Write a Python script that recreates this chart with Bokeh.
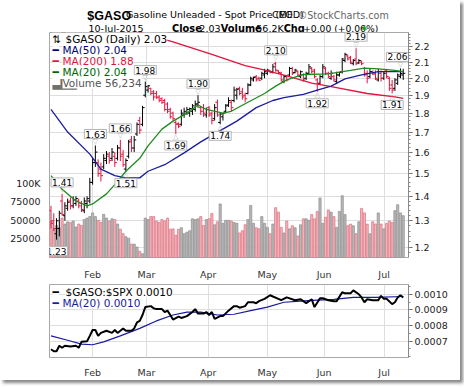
import numpy as np
from bokeh.plotting import figure
from bokeh.layouts import column
from bokeh.models import (ColumnDataSource, Range1d, LinearAxis, LinearScale, FixedTicker,
                          PrintfTickFormatter)
from bokeh.core.properties import value
from bokeh.embed import file_html
from bokeh.resources import INLINE

FONT = "DejaVu Sans"

# ---------------- data ----------------
symbol = "$GASO"
name = "Gasoline Unleaded - Spot Price (EOD)"
exchange = "CME"
last_date = "10-Jul-2015"
month_labels = ["Feb", "Mar", "Apr", "May", "Jun", "Jul"]
month_pos = [15.0, 34.4, 56.7, 78.0, 98.5, 120.1]

opens = [1.34, 1.30, 1.25, 1.27, 1.38, 1.32, 1.35, 1.38, 1.36, 1.37,
         1.38, 1.37, 1.34, 1.37, 1.38, 1.46, 1.55, 1.55, 1.52, 1.53,
         1.56, 1.58, 1.57, 1.58, 1.57, 1.62, 1.59, 1.52, 1.58, 1.66,
         1.62, 1.69, 1.76, 1.74, 1.90, 1.93, 1.94, 1.92, 1.91, 1.89,
         1.88, 1.87, 1.85, 1.82, 1.80, 1.75, 1.745, 1.74, 1.79, 1.80,
         1.80, 1.81, 1.82, 1.85, 1.83, 1.83, 1.79, 1.83, 1.80, 1.77,
         1.86, 1.75, 1.78, 1.81, 1.845, 1.86, 1.87, 1.90, 1.94, 1.92,
         1.90, 1.91, 1.96, 1.99, 2.01, 2.00, 2.00, 2.02, 2.03, 2.045,
         2.04, 2.09, 2.045, 2.03, 1.98, 2.01, 2.02, 2.06, 2.035, 2.04,
         2.01, 2.02, 2.00, 2.03, 2.06, 2.05, 1.99, 1.97, 2.01, 2.06,
         2.03, 2.00, 2.01, 1.98, 2.02, 2.04, 2.11, 2.14, 2.13, 2.09,
         2.12, 2.095, 2.10, 2.06, 2.03, 2.01, 2.04, 2.03, 1.99, 2.03,
         2.00, 2.05, 2.00, 1.96, 1.94, 1.97, 2.01, 2.02]
highs = [1.36, 1.33, 1.31, 1.34, 1.41, 1.375, 1.39, 1.395, 1.40, 1.40,
         1.39, 1.38, 1.395, 1.40, 1.48, 1.57, 1.632, 1.565, 1.55, 1.59,
         1.605, 1.60, 1.62, 1.60, 1.635, 1.66, 1.61, 1.57, 1.66, 1.68,
         1.68, 1.75, 1.78, 1.84, 1.98, 1.96, 1.943, 1.93, 1.925, 1.90,
         1.888, 1.88, 1.86, 1.83, 1.808, 1.76, 1.75, 1.82, 1.83, 1.834,
         1.83, 1.85, 1.87, 1.90, 1.84, 1.85, 1.83, 1.84, 1.808, 1.85,
         1.875, 1.80, 1.80, 1.85, 1.888, 1.875, 1.95, 1.943, 1.95, 1.943,
         1.915, 1.97, 2.01, 2.01, 2.02, 2.01, 2.04, 2.058, 2.058, 2.05,
         2.088, 2.102, 2.05, 2.04, 2.02, 2.02, 2.07, 2.07, 2.058, 2.048,
         2.048, 2.029, 2.04, 2.088, 2.07, 2.058, 2.00, 2.02, 2.088, 2.07,
         2.04, 2.048, 2.02, 2.04, 2.04, 2.126, 2.16, 2.149, 2.14, 2.12,
         2.19, 2.119, 2.11, 2.07, 2.048, 2.058, 2.048, 2.048, 2.058, 2.048,
         2.04, 2.058, 2.01, 1.99, 2.00, 2.029, 2.06, 2.058]
lows = [1.27, 1.26, 1.228, 1.24, 1.32, 1.30, 1.34, 1.345, 1.35, 1.36,
        1.35, 1.335, 1.33, 1.35, 1.37, 1.45, 1.53, 1.485, 1.464, 1.52,
        1.543, 1.545, 1.557, 1.53, 1.56, 1.557, 1.53, 1.508, 1.57, 1.60,
        1.60, 1.68, 1.69, 1.73, 1.888, 1.915, 1.90, 1.87, 1.88, 1.86,
        1.85, 1.81, 1.80, 1.77, 1.76, 1.69, 1.72, 1.732, 1.775, 1.79,
        1.78, 1.79, 1.808, 1.83, 1.79, 1.78, 1.775, 1.78, 1.74, 1.76,
        1.78, 1.74, 1.76, 1.80, 1.834, 1.81, 1.86, 1.875, 1.90, 1.875,
        1.86, 1.905, 1.953, 1.98, 1.98, 1.985, 1.99, 2.00, 2.02, 2.03,
        2.029, 2.04, 2.03, 1.98, 1.97, 1.98, 2.01, 2.02, 2.03, 2.01,
        2.00, 1.98, 1.99, 2.02, 2.03, 2.00, 1.92, 1.96, 2.00, 2.02,
        2.00, 1.99, 1.98, 1.965, 2.01, 2.029, 2.10, 2.11, 2.088, 2.08,
        2.08, 2.088, 2.08, 2.01, 1.97, 2.00, 2.02, 1.99, 1.98, 1.98,
        1.99, 2.00, 1.925, 1.91, 1.925, 1.96, 2.00, 1.99]
closes = [1.29, 1.27, 1.30, 1.33, 1.325, 1.36, 1.375, 1.36, 1.385, 1.39,
          1.36, 1.345, 1.38, 1.39, 1.46, 1.55, 1.60, 1.50, 1.49, 1.57,
          1.59, 1.56, 1.60, 1.55, 1.62, 1.58, 1.54, 1.56, 1.65, 1.62,
          1.66, 1.74, 1.71, 1.83, 1.95, 1.955, 1.91, 1.89, 1.885, 1.87,
          1.86, 1.82, 1.81, 1.78, 1.77, 1.74, 1.73, 1.80, 1.81, 1.82,
          1.825, 1.84, 1.85, 1.86, 1.81, 1.80, 1.82, 1.79, 1.76, 1.83,
          1.79, 1.795, 1.80, 1.84, 1.87, 1.83, 1.93, 1.935, 1.91, 1.89,
          1.88, 1.96, 2.00, 2.005, 1.99, 1.988, 2.03, 2.04, 2.05, 2.035,
          2.07, 2.05, 2.035, 1.99, 2.01, 1.99, 2.06, 2.03, 2.05, 2.02,
          2.04, 1.99, 2.03, 2.07, 2.04, 2.01, 1.97, 2.01, 2.07, 2.03,
          2.01, 2.03, 1.99, 2.02, 2.035, 2.12, 2.15, 2.12, 2.10, 2.11,
          2.09, 2.11, 2.09, 2.02, 2.00, 2.04, 2.025, 2.00, 2.04, 2.00,
          2.03, 2.01, 1.94, 1.93, 1.99, 2.02, 2.029, 2.0302]
volumes = [49000, 38000, 43000, 40000, 53000, 45000, 48000, 47000, 49000, 41000,
           45000, 43000, 51000, 53000, 55000, 60000, 55000, 50000, 47000, 58000,
           53000, 49000, 52000, 51000, 45000, 38000, 32000, 28000, 26000, 18000,
           18000, 14000, 8500, 5000, 53000, 51000, 55000, 55000, 49000, 47000,
           51000, 49000, 53000, 38000, 38500, 30000, 38000, 40000, 32000, 34000,
           36000, 52000, 51000, 52000, 55000, 43000, 51000, 52000, 59000, 44000,
           48000, 72000, 46000, 50000, 50000, 49000, 47000, 46000, 33000, 36000,
           44000, 51000, 70000, 46000, 40000, 38500, 55000, 46000, 40500, 32000,
           45000, 67000, 61000, 40500, 33000, 49000, 38500, 42700, 40000, 29000,
           44000, 52000, 52000, 50000, 57700, 52000, 62000, 80000, 46000, 54000,
           64000, 61000, 55000, 40500, 62000, 83000, 57700, 42700, 44900, 42700,
           32000, 48000, 66000, 60000, 44900, 32000, 48000, 45000, 60000, 45000,
           38500, 46000, 49000, 47000, 63000, 71000, 60000, 56234]

ma50_idx = [0, 6, 14, 18, 23, 27, 32, 35, 41, 48, 54, 61, 67, 74, 80, 84, 91, 96, 101, 106, 112, 118, 124, 127]
ma50_val = [1.82, 1.70, 1.59, 1.52, 1.49, 1.48, 1.48, 1.51, 1.54, 1.596, 1.65, 1.707,
            1.757, 1.83, 1.87, 1.886, 1.905, 1.93, 1.953, 1.996, 2.02, 2.04, 2.04, 2.04]
ma200_idx = [28, 44, 58, 70, 76, 85, 94, 102, 114, 124, 127]
ma200_val = [2.32, 2.233, 2.149, 2.078, 2.054, 2.015, 1.971, 1.947, 1.91, 1.89, 1.882]
ma20_idx = [0, 4, 9, 13, 15, 20, 23, 27, 32, 35, 40, 44, 49, 53, 56, 62, 65, 71, 77, 81,
            85, 91, 100, 108, 113, 118, 124, 127]
ma20_val = [1.49, 1.43, 1.38, 1.36, 1.368, 1.41, 1.45, 1.51, 1.57, 1.63, 1.715, 1.757,
            1.80, 1.845, 1.82, 1.80, 1.81, 1.86, 1.91, 1.953, 1.99, 2.023, 2.027, 2.048,
            2.062, 2.058, 2.048, 2.04]

ratio_idx = [0, 1, 2, 3, 4, 5, 7, 9, 10, 11, 13, 14, 15, 16, 17, 18, 20, 22, 23, 24,
             26, 27, 29, 30, 31, 32, 33, 34, 36, 37, 38, 40, 41, 42, 43, 44, 46, 47, 49, 51,
             52, 53, 55, 56, 57, 58, 59, 61, 62, 64, 66, 67, 68, 70, 71, 73, 74, 75, 77, 79,
             80, 82, 83, 85, 88, 90, 92, 94, 95, 97, 98, 100, 102, 103, 105, 106, 108, 109, 111, 112,
             113, 114, 116, 118, 119, 120, 121, 123, 124, 125, 126, 127]
ratio_val = [0.000647, 0.000634, 0.000634, 0.000670, 0.000657, 0.000670, 0.000665, 0.000670, 0.000657, 0.000695,
             0.000699, 0.000733, 0.000771, 0.000771, 0.000733, 0.000752, 0.000766, 0.000752, 0.000771, 0.000752,
             0.000781, 0.000766, 0.000766, 0.000781, 0.000819, 0.000829, 0.000867, 0.000918, 0.000924, 0.000910,
             0.000905, 0.000905, 0.000886, 0.000895, 0.000867, 0.000838, 0.000857, 0.000848, 0.000860, 0.000886,
             0.000905, 0.000876, 0.000876, 0.000886, 0.000867, 0.000886, 0.000842, 0.000860, 0.000860, 0.000895,
             0.000924, 0.000924, 0.000914, 0.000924, 0.000949, 0.000949, 0.000943, 0.000956, 0.000971, 0.000994,
             0.000986, 0.000971, 0.000962, 0.000980, 0.000962, 0.000968, 0.000943, 0.000968, 0.000918, 0.000975,
             0.000975, 0.000962, 0.000956, 0.000956, 0.001013, 0.001006, 0.001006, 0.001025, 0.001000, 0.000980,
             0.000949, 0.000968, 0.000962, 0.000962, 0.000990, 0.000971, 0.000971, 0.000937, 0.000949, 0.000980,
             0.000994, 0.000980]
ratio_ma_idx = [0, 6, 11, 15, 19, 25, 32, 38, 44, 49, 54, 60, 66, 72, 78, 84, 90, 96, 102, 109, 117, 127]
ratio_ma_val = [0.000733, 0.000705, 0.000680, 0.000676, 0.000695, 0.000733, 0.000781, 0.000829, 0.000867,
                0.000886, 0.000886, 0.000867, 0.000872, 0.000895, 0.000918, 0.000949, 0.000956, 0.000962,
                0.000968, 0.000980, 0.000980, 0.000986]

price_ticks = [1.2, 1.3, 1.4, 1.5, 1.6, 1.7, 1.8, 1.9, 2.0, 2.1, 2.2]
vol_ticks = [25000, 50000, 75000, 100000]
vol_tick_labels = ["25000", "50000", "75000", "100K"]
ratio_ticks = [0.0007, 0.0008, 0.0009, 0.0010]

peak_idx = [4, 2, 16, 25, 27, 34, 45, 53, 61, 81, 96, 110, 123, 126]
peak_kind = ["high", "low", "high", "high", "low", "high", "low", "high", "low",
             "high", "low", "high", "low", "high"]

# ---------------- styles ----------------
RED = "#e0143c"
NAVY = "#1c1c9c"
GREEN = "#1f8a1f"
GRID = "#dedede"
FRAME = "#a8a8a8"
W = 460
LB = 49
FW = 359
RB = W - LB - FW

n = len(closes)
idx = np.arange(n)
up = [False] + [closes[i] > closes[i - 1] for i in range(1, n)]
bar_col = ["#000000" if u else RED for u in up]
vfill = ["#b8b8b8" if u else "#f2b3b9" for u in up]
vline = ["#8e8e8e" if u else "#dc7282" for u in up]

xr = Range1d(-0.54, 128.9)


def style_common(p):
    p.outline_line_color = FRAME
    p.background_fill_color = "white"
    p.border_fill_color = "white"
    p.xgrid.ticker = FixedTicker(ticks=month_pos)
    p.xgrid.grid_line_color = GRID
    p.ygrid.grid_line_color = GRID
    xa = p.xaxis[0]
    xa.ticker = FixedTicker(ticks=month_pos)
    xa.major_label_overrides = {m: lab for m, lab in zip(month_pos, month_labels)}
    xa.axis_line_color = None
    xa.major_tick_line_color = None
    xa.minor_tick_line_color = None
    xa.major_label_text_font = FONT
    xa.major_label_text_font_size = "9.5px"
    xa.major_label_text_color = "#333333"


# ---------------- header ----------------
HH = 32
ph = figure(width=W, height=HH, x_range=Range1d(0, W), y_range=Range1d(HH, 0),
            x_axis_location=None, y_axis_location=None, output_backend="svg",
            toolbar_location=None, min_border=0)
ph.outline_line_color = None
ph.grid.visible = False
chg = closes[-1] - closes[-2]
pct = chg / closes[-2] * 100
vol_k = volumes[-1] / 1000.0


def htext(x, y, t, size, color="#000000", style="normal", font=FONT):
    ph.text(x=[x], y=[y], text=[t], text_font=value(font), text_font_size=size,
            text_color=color, text_font_style=style, text_baseline="alphabetic")


htext(48.5, 15.5, symbol, "12.5px", style="bold", font="Liberation Sans")
htext(98, 14, name, "9.5px")
htext(285, 14, exchange, "9.5px")
htext(318, 14.5, "\u00a9StockCharts.com", "9.6px", color="#666666")
htext(50, 27.5, last_date, "9.5px")
htext(157, 27.5, "Close", "9.8px", style="bold")
htext(192, 27.5, f"{closes[-1]:.2f}", "9.5px")
htext(219.5, 27.5, "Volume", "9.8px", style="bold")
htext(265, 27.5, f"{vol_k:.1f}K", "9.5px")
htext(300, 27.5, "Chg", "9.8px", style="bold")
htext(325, 27.5, f"{chg:+.2f} ({pct:+.2f}%)", "9.2px")
htext(400, 26.5, "\u25b2", "6.5px", color="#22a022")

# ---------------- price panel ----------------
pa = figure(width=W, height=250, x_range=xr, y_range=Range1d(1.1634, 2.2967),
            y_axis_type="log", y_axis_location="right", output_backend="svg",
            toolbar_location=None, min_border_left=LB, min_border_right=RB,
            min_border_top=0, min_border_bottom=14)
style_common(pa)
pa.ygrid.ticker = FixedTicker(ticks=price_ticks)
ya = pa.yaxis[0]
ya.ticker = FixedTicker(ticks=price_ticks, minor_ticks=list(np.round(np.arange(1.16, 2.30, 0.02), 2)))
ya.formatter = PrintfTickFormatter(format="%.1f")
ya.axis_line_color = "#888888"
ya.major_tick_out = 4
ya.major_tick_in = 0
ya.minor_tick_out = 2
ya.minor_tick_in = 0
ya.major_tick_line_color = "#666666"
ya.minor_tick_line_color = "#888888"
ya.major_label_standoff = 2
ya.major_label_text_font = FONT
ya.major_label_text_font_size = "9.5px"
ya.major_label_text_color = "#222222"

pa.extra_y_ranges = {"vol": Range1d(0, 302564)}
pa.extra_y_scales = {"vol": LinearScale()}
va = LinearAxis(y_range_name="vol", ticker=FixedTicker(ticks=vol_ticks),
                major_label_overrides={t: s for t, s in zip(vol_ticks, vol_tick_labels)})
va.axis_line_color = None
va.major_tick_line_color = None
va.minor_tick_line_color = None
va.major_label_standoff = 3
va.major_label_text_font = FONT
va.major_label_text_font_size = "9.5px"
va.major_label_text_color = "#222222"
pa.add_layout(va, "left")

vsrc = ColumnDataSource(dict(x=idx, top=volumes, fill=vfill, line=vline))
pa.vbar(x="x", top="top", bottom=0, width=0.8, source=vsrc, y_range_name="vol",
        fill_color="fill", line_color="line", line_width=0.7)

bsrc = ColumnDataSource(dict(x=idx, xl=idx - 0.75, xr=idx + 0.75, o=opens, h=highs,
                             l=lows, c=closes, col=bar_col))
pa.segment(x0="x", y0="l", x1="x", y1="h", color="col", line_width=1, source=bsrc)
pa.segment(x0="xl", y0="o", x1="x", y1="o", color="col", line_width=1, source=bsrc)
pa.segment(x0="x", y0="c", x1="xr", y1="c", color="col", line_width=1, source=bsrc)

pa.line(ma200_idx, ma200_val, color=RED, line_width=1.3)
pa.line(ma50_idx, ma50_val, color=NAVY, line_width=1.3)
pa.line(ma20_idx, ma20_val, color=GREEN, line_width=1.3)

# peak / trough labels
for kind, base, off, ptr in (("high", "bottom", -7, "\u25bd"), ("low", "top", 7, "\u25b3")):
    ii = [i for i, k in zip(peak_idx, peak_kind) if k == kind]
    yy = [highs[i] if kind == "high" else lows[i] for i in ii]
    dx = [-3 if i == n - 2 else 0 for i in ii]
    src = ColumnDataSource(dict(x=ii, y=yy, t=[f"{v:.2f}" for v in yy], dx=dx))
    pa.text(x="x", y="y", text=value(ptr), source=src, text_font=value(FONT),
            text_font_size="7px", text_color="#b0b0b0", text_align="center",
            text_baseline="middle", y_offset=off / 2)
    pa.text(x="x", y="y", text="t", source=src, text_font=value(FONT),
            text_font_size="9px", text_color="#000000", text_align="center",
            text_baseline=base, x_offset="dx", y_offset=off,
            background_fill_color="white", border_line_color="#b4b4b4", padding=1)

# legend of price panel
leg_t = ["\u21c5", f"{symbol} (Daily) {closes[-1]:.2f}",
         "\u2501", f"MA(50) {ma50_val[-1]:.2f}",
         "\u2501", f"MA(200) {ma200_val[-1]:.2f}",
         "\u2501", f"MA(20) {ma20_val[-1]:.2f}",
         "\u2583\u2587\u2585", f"Volume {volumes[-1]:,}"]
leg_c = ["#000000", "#000000", "#000080", "#000080", RED, RED, "#006400", "#006400",
         "#707070", "#555555"]
leg_xo = [3, 16, 3, 13, 3, 13, 3, 13, 3, 13]
leg_yo = [0, 0, 11, 11, 22, 22, 33, 33, 44, 44]
lsrc = ColumnDataSource(dict(x=[xr.start] * len(leg_t), y=[2.2967] * len(leg_t), t=leg_t,
                             c=leg_c, xo=leg_xo, yo=leg_yo))
pa.text(x="x", y="y", text="t", source=lsrc, text_color="c", x_offset="xo", y_offset="yo",
        text_font=value(FONT), text_font_size="10.5px", text_baseline="top",
        background_fill_color="white")

# ---------------- ratio panel ----------------
pb = figure(width=W, height=98, x_range=xr, y_range=Range1d(0.0005943, 0.0010629),
            y_axis_location="right", output_backend="svg", toolbar_location=None,
            min_border_left=LB, min_border_right=RB, min_border_top=2, min_border_bottom=14)
style_common(pb)
pb.xaxis[0].major_label_standoff = 3
pb.ygrid.ticker = FixedTicker(ticks=ratio_ticks)
yb = pb.yaxis[0]
yb.ticker = FixedTicker(ticks=ratio_ticks, minor_ticks=list(np.round(np.arange(0.0006, 0.00107, 0.00005), 6)))
yb.formatter = PrintfTickFormatter(format="%.4f")
yb.axis_line_color = "#888888"
yb.major_tick_out = 4
yb.major_tick_in = 0
yb.minor_tick_out = 2
yb.minor_tick_in = 0
yb.major_tick_line_color = "#666666"
yb.minor_tick_line_color = "#888888"
yb.major_label_standoff = 2
yb.major_label_text_font = FONT
yb.major_label_text_font_size = "9.5px"
yb.major_label_text_color = "#222222"

pb.line(ratio_ma_idx, ratio_ma_val, color="#1a1aa0", line_width=1.2)
pb.line(ratio_idx, ratio_val, color="#000000", line_width=2)

rl_t = ["\u2501", f"{symbol}:$SPX {ratio_val[-1]:.4f}", "\u2501", f"MA(20) {ratio_ma_val[-1]:.4f}"]
rl_c = ["#000000", "#000000", "#1a1aa0", "#1a1aa0"]
rl_xo = [3, 16, 3, 13]
rl_yo = [1, 1, 12, 12]
rsrc = ColumnDataSource(dict(x=[xr.start] * 4, y=[0.0010629] * 4, t=rl_t, c=rl_c,
                             xo=rl_xo, yo=rl_yo))
pb.text(x="x", y="y", text="t", source=rsrc, text_color="c", x_offset="xo", y_offset="yo",
        text_font=value(FONT), text_font_size="10.5px", text_baseline="top",
        background_fill_color="white")

layout = column(ph, pa, pb, spacing=0, styles={"box-shadow": "3px 3px 3px #888888"})

open("out.html", "w").write(file_html(layout, INLINE))
